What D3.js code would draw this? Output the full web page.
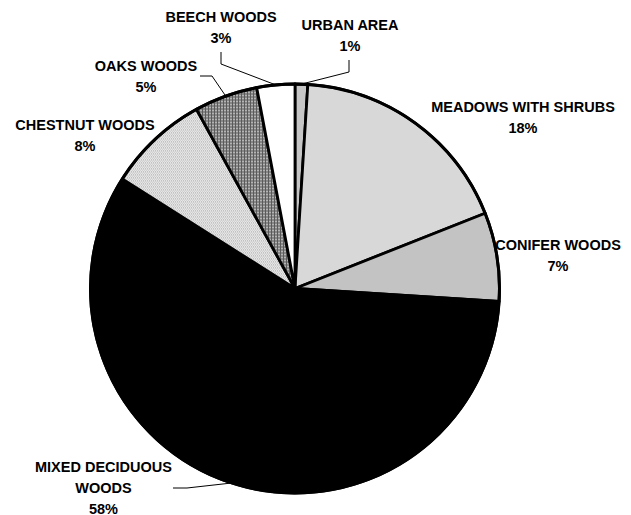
<!DOCTYPE html>
<html>
<head>
<meta charset="utf-8">
<script src="https://cdn.jsdelivr.net/npm/d3@7"></script>
<style>
  html, body { margin: 0; padding: 0; background: #fff; }
  svg { display: block; }
  .lbl { font-family: "Liberation Sans", Arial, sans-serif; font-weight: bold; font-size: 14.5px; fill: #000; }
</style>
</head>
<body>
<div id="chart"></div>
<script>
// Land use shares, clockwise from 12 o'clock
const categories = ["URBAN AREA", "MEADOWS WITH SHRUBS", "CONIFER WOODS",
    "MIXED DECIDUOUS\nWOODS", "CHESTNUT WOODS", "OAKS WOODS", "BEECH WOODS"];
const values = [1, 18, 7, 58, 8, 5, 3];
const fills = ["url(#p-urban)", "url(#p-meadow)", "url(#p-conifer)", "#000",
    "url(#p-chestnut)", "url(#p-oaks)", "#fff"];

// label placement (centre x, first baseline) and leader start/knee
const labelPos = [[350, 30], [523, 112], [558, 250], [103.5, 471.5], [85, 130], [146, 71], [221, 22]];
const leaders = [[[349, 60], [349, 72]], null, null, [[173, 488], [187, 488]], null,
    [[200, 76], [212, 76]], [[221, 52], [221, 64]]];
const lineGap = 21;

const width = 631, height = 515;
const cx = 295, cy = 288.5, r = 204.5;

const svg = d3.select("#chart").append("svg")
    .attr("width", width)
    .attr("height", height);

// fill patterns
const defs = svg.append("defs");
function pattern(id, w, h, bg, cells) {
    const p = defs.append("pattern").attr("id", id)
        .attr("patternUnits", "userSpaceOnUse")
        .attr("width", w).attr("height", h);
    p.append("rect").attr("width", w).attr("height", h).attr("fill", bg);
    cells.forEach(c => p.append("rect")
        .attr("x", c[0]).attr("y", c[1]).attr("width", c[2]).attr("height", c[3])
        .attr("fill", c[4]));
}
pattern("p-meadow", 2, 2, "#ececec", [[0, 0, 1, 1, "#c4c4c4"], [1, 1, 1, 1, "#c4c4c4"]]);
pattern("p-urban", 2, 2, "#ffffff", [[0, 0, 1, 1, "#8c8c8c"], [1, 1, 1, 1, "#8c8c8c"]]);
pattern("p-conifer", 2, 2, "#ececec", [[0, 0, 2, 1, "#9a9a9a"]]);
pattern("p-chestnut", 2, 3, "#f4f4f4", [[0, 0, 1, 1, "#aaaaaa"], [1, 1, 1, 1, "#c8c8c8"], [0, 2, 2, 1, "#d8d8d8"]]);
pattern("p-oaks", 3, 3, "#b4b4b4", [[0, 0, 3, 1, "#5a5a5a"], [0, 0, 1, 3, "#5a5a5a"]]);

const pie = d3.pie().sort(null).value(d => d);
const arcs = pie(values);
const arc = d3.arc().innerRadius(0).outerRadius(r);

const g = svg.append("g").attr("transform", `translate(${cx},${cy})`);

g.selectAll("path.slice")
    .data(arcs)
    .join("path")
    .attr("class", "slice")
    .attr("d", arc)
    .attr("fill", (d, i) => fills[i])
    .attr("stroke", "#000")
    .attr("stroke-width", 2.8)
    .attr("stroke-linejoin", "round");

// outer ring a touch heavier
g.append("circle").attr("r", r).attr("fill", "none")
    .attr("stroke", "#000").attr("stroke-width", 3);

// leader lines end at the slice's mid-angle on the rim
arcs.forEach((d, i) => {
    if (!leaders[i]) return;
    const a = (d.startAngle + d.endAngle) / 2;
    const end = [cx + r * Math.sin(a), cy - r * Math.cos(a)];
    svg.append("polyline")
        .attr("points", [leaders[i][0], leaders[i][1], end].map(p => p.join(",")).join(" "))
        .attr("fill", "none")
        .attr("stroke", "#000")
        .attr("stroke-width", 1);
});

// labels
categories.forEach((c, i) => {
    const lines = c.split("\n").concat([values[i] + "%"]);
    const t = svg.append("text").attr("class", "lbl")
        .attr("text-anchor", "middle");
    lines.forEach((s, k) => t.append("tspan")
        .attr("x", labelPos[i][0])
        .attr("y", labelPos[i][1] + k * lineGap)
        .text(s));
});
</script>
</body>
</html>
